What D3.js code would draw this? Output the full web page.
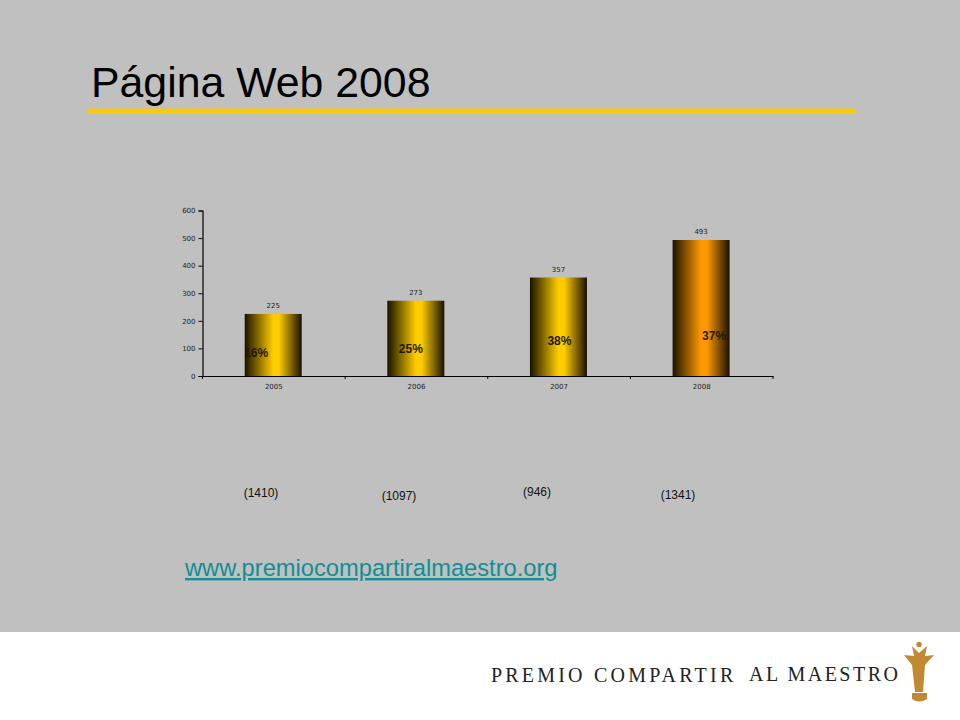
<!DOCTYPE html>
<html><head><meta charset="utf-8">
<script src="https://cdn.jsdelivr.net/npm/d3@7"></script>
<style>html,body{margin:0;padding:0;background:#fff}svg{display:block}</style>
</head><body><svg id="c" width="960" height="720"></svg>
<script>
const years = ["2005","2006","2007","2008"];
const visits = [225,273,357,493];
const shares = ["16%","25%","38%","37%"];
const totals = ["(1410)","(1097)","(946)","(1341)"];
const yTicks = [0,100,200,300,400,500,600];
const titleText = "Página Web 2008";
const linkText = "www.premiocompartiralmaestro.org";

const svg = d3.select("#c");
const sans = "Liberation Sans, Arial, sans-serif";
svg.append("rect").attr("width",960).attr("height",632).attr("fill","#c0c0c0");

svg.append("text").attr("x",91).attr("y",97).attr("font-family",sans).attr("font-size",42.8).attr("fill","#000").text(titleText);
svg.append("rect").attr("x",88).attr("y",108.5).attr("width",768).attr("height",5.5).attr("fill","#f9c90e");

const xOuter = d3.scaleBand().domain(years).range([202.5,773]);
const y = d3.scaleLinear().domain([0,600]).range([376,210.5]);

const defs = svg.append("defs");
[["gY","#ffcc00"],["gO","#ff9900"]].forEach(([id,c])=>{
  const g = defs.append("linearGradient").attr("id",id);
  g.append("stop").attr("offset","0").attr("stop-color","#1a1200");
  g.append("stop").attr("offset","0.5").attr("stop-color",c);
  g.append("stop").attr("offset","0.6").attr("stop-color",c);
  g.append("stop").attr("offset","1").attr("stop-color","#1a1000");
});

const barW = 57;
const cx = d => xOuter(d)+xOuter.bandwidth()/2-0.6;
svg.selectAll("rect.bar").data(years).join("rect").attr("class","bar")
  .attr("x",d=>cx(d)-barW/2).attr("width",barW)
  .attr("y",(d,i)=>y(visits[i])).attr("height",(d,i)=>y(0)-y(visits[i]))
  .attr("fill",(d,i)=>i===3?"url(#gO)":"url(#gY)");

const tickFont = "DejaVu Sans, sans-serif";
const yAxis = svg.append("g").attr("transform","translate(202.5,0)").call(d3.axisLeft(y).tickValues(yTicks).tickSize(4).tickPadding(3));
const xAxis = svg.append("g").attr("transform","translate(0,376)").call(d3.axisBottom(xOuter).tickSize(0).tickPadding(8));
svg.append("g").selectAll("line").data(d3.range(0,5)).join("line")
  .attr("x1",i=>202.5+i*xOuter.step()).attr("x2",i=>202.5+i*xOuter.step())
  .attr("y1",376).attr("y2",379).attr("stroke","#000");
[yAxis,xAxis].forEach(a=>{
  a.selectAll("path").attr("stroke","#000").attr("stroke-width",1.2);
  a.selectAll("line").attr("stroke","#000");
  a.selectAll("text").attr("font-family",tickFont).attr("font-size",7).attr("fill","#222");
});

svg.selectAll("text.val").data(years).join("text").attr("class","val")
  .attr("x",cx).attr("y",(d,i)=>y(visits[i])-6).attr("text-anchor","middle")
  .attr("font-family",tickFont).attr("font-size",7).attr("fill","#222")
  .text((d,i)=>visits[i]);

const shareDx = [-17,-5,1,13], shareY = [357,353,345,340];
svg.selectAll("text.share").data(years).join("text").attr("class","share")
  .attr("x",(d,i)=>cx(d)+shareDx[i]).attr("y",(d,i)=>shareY[i]).attr("text-anchor","middle")
  .attr("font-family",sans).attr("font-weight","bold").attr("font-size",12).attr("fill","#241a00")
  .text((d,i)=>shares[i]);

const totalX = [261,399,537,678], totalY = [497,500,496,499];
svg.selectAll("text.total").data(totals).join("text").attr("class","total")
  .attr("x",(d,i)=>totalX[i]).attr("y",(d,i)=>totalY[i]).attr("text-anchor","middle")
  .attr("font-family",sans).attr("font-size",12).attr("fill","#111").text(d=>d);

svg.append("text").attr("x",185).attr("y",576).attr("font-family",sans).attr("font-size",23.7)
  .attr("fill","#0f8f96").attr("text-decoration","underline").text(linkText);

const serif = "Liberation Serif, serif";
svg.append("text").attr("x",491).attr("y",682).attr("font-family",serif).attr("font-size",20)
  .attr("letter-spacing",3.2).attr("fill","#222").text("PREMIO COMPARTIR");
svg.append("text").attr("x",749).attr("y",680.5).attr("font-family",serif).attr("font-size",20)
  .attr("letter-spacing",2.5).attr("fill","#222").text("AL MAESTRO");

const gold = "#c08a35";
const logo = svg.append("g").attr("fill",gold);
logo.append("circle").attr("cx",919).attr("cy",644.5).attr("r",2.7);
logo.append("path").attr("d","M904,655 L914,656 L912,646 L919,653 L927,646 L925,656 L934,655 L925,665 L923,692 L915,692 L912,665 Z");
logo.append("path").attr("d","M912,693 L927,693 L927,699 Q919,704 912,699 Z");
</script></body></html>
